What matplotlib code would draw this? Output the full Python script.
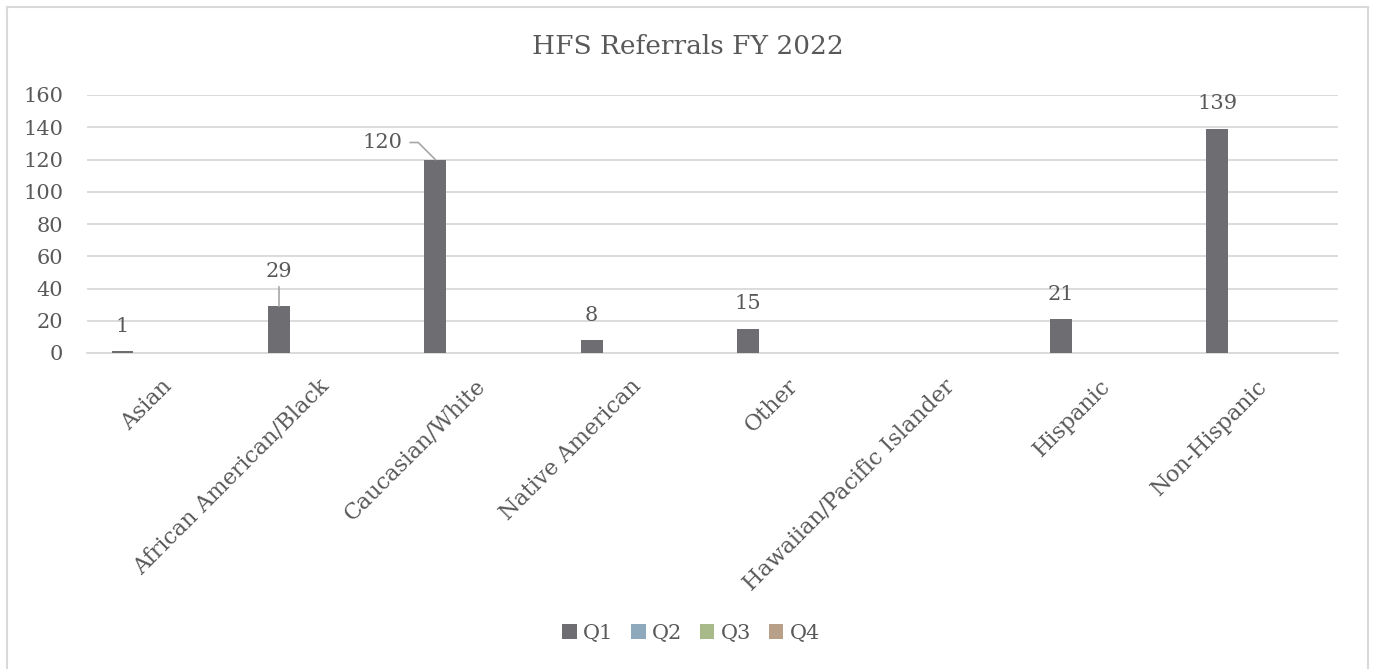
import matplotlib
matplotlib.use("Agg")
import matplotlib.pyplot as plt
import matplotlib.transforms as mtransforms
from matplotlib.lines import Line2D
from matplotlib.patches import Patch
import numpy as np

categories = ["Asian", "African American/Black", "Caucasian/White", "Native American",
              "Other", "Hawaiian/Pacific Islander", "Hispanic", "Non-Hispanic"]
q1 = [1, 29, 120, 8, 15, None, 21, 139]
q2 = [0, 0, 0, 0, 0, 0, 0, 0]
q3 = [0, 0, 0, 0, 0, 0, 0, 0]
q4 = [0, 0, 0, 0, 0, 0, 0, 0]
series_names = ["Q1", "Q2", "Q3", "Q4"]
series_colors = ["#6e6d72", "#8ea9bb", "#a8b98a", "#b8a088"]
yticks = [0, 20, 40, 60, 80, 100, 120, 140, 160]
title = "HFS Referrals FY 2022"

TXT = "#595959"
GRID = "#d9d9d9"
LEAD = "#a6a6a6"
FONT = "DejaVu Serif"
FS = 15
plt.rcParams["font.family"] = FONT

W, H = 1375, 669
fig = plt.figure(figsize=(W / 100, H / 100), dpi=100)
ax = fig.add_axes([87 / W, (H - 353) / H, (1338 - 87) / W, (353 - 95) / H])

x = np.arange(len(categories))
spacing = 0.182
bw = 0.14
all_series = [q1, q2, q3, q4]
for i, (vals, col) in enumerate(zip(all_series, series_colors)):
    v = np.array([np.nan if a is None else a for a in vals], dtype=float)
    ax.bar(x + (i - 1.5) * spacing, np.nan_to_num(v), width=bw, color=col, linewidth=0, zorder=3)

ax.set_xlim(-0.5, len(categories) - 0.5)
ax.set_ylim(0, 160)
ax.set_yticks(yticks)
ax.set_yticklabels([str(t) for t in yticks], fontsize=FS, color=TXT)
ax.tick_params(axis="y", length=0, pad=17)
ax.tick_params(axis="x", length=0, pad=16)
ax.grid(axis="y", color=GRID, linewidth=1.3, zorder=0)
for s in ["top", "right", "left"]:
    ax.spines[s].set_visible(False)
ax.spines["bottom"].set_color(GRID)
ax.spines["bottom"].set_linewidth(1.3)

ax.set_xticks(x)
labels = ax.set_xticklabels(categories, fontsize=16, color=TXT, rotation=45,
                            ha="right", rotation_mode="anchor")
shift = mtransforms.ScaledTranslation(-4 / 100, 0, fig.dpi_scale_trans)
for lab in labels:
    lab.set_transform(lab.get_transform() + shift)

inv = fig.transFigure.inverted()


def leader(xi, v, offsets):
    px, py = ax.transData.transform((xi, v))
    pts = [inv.transform((px + dx, py + dy)) for dx, dy in offsets]
    fig.add_artist(Line2D([p[0] for p in pts], [p[1] for p in pts], transform=fig.transFigure,
                          color=LEAD, lw=1.2, zorder=5))


# data labels
q1x = x - 1.5 * spacing
for xi, v in zip(q1x, q1):
    if v is None:
        continue
    if v == 29:
        ax.annotate(str(v), xy=(xi, v), xytext=(0, 35), textcoords="offset pixels",
                    ha="center", va="center", fontsize=FS, color=TXT)
        leader(xi, v, [(0, 0), (0, 19)])
    elif v == 120:
        ax.annotate(str(v), xy=(xi, v), xytext=(-53, 17), textcoords="offset pixels",
                    ha="center", va="center", fontsize=FS, color=TXT)
        leader(xi, v, [(-25, 17), (-17, 17), (0, 0)])
    else:
        ax.annotate(str(v), xy=(xi, v), xytext=(0, 25), textcoords="offset pixels",
                    ha="center", va="center", fontsize=FS, color=TXT)

fig.text(688 / W, 1 - 47 / H, title, ha="center", va="center", fontsize=19, color=TXT)

handles = [Patch(facecolor=c, edgecolor="none") for c in series_colors]
leg = fig.legend(handles, series_names, loc="center", bbox_to_anchor=(691 / W, 1 - 633 / H),
                 ncol=4, frameon=False, fontsize=FS, handlelength=0.7, handleheight=0.7,
                 handletextpad=0.3, columnspacing=0.85, labelcolor=TXT)

# chart border (left, top, right)
border = [((7, 7), (H, 7)), ((7, 1368), (7, 7)), ((1368, 1368), (7, H))]
for xs, ys in border:
    fig.add_artist(Line2D([xs[0] / W, xs[1] / W], [1 - ys[0] / H, 1 - ys[1] / H],
                          transform=fig.transFigure, color=GRID, lw=1.5))

fig.savefig("out.png", dpi=100)
